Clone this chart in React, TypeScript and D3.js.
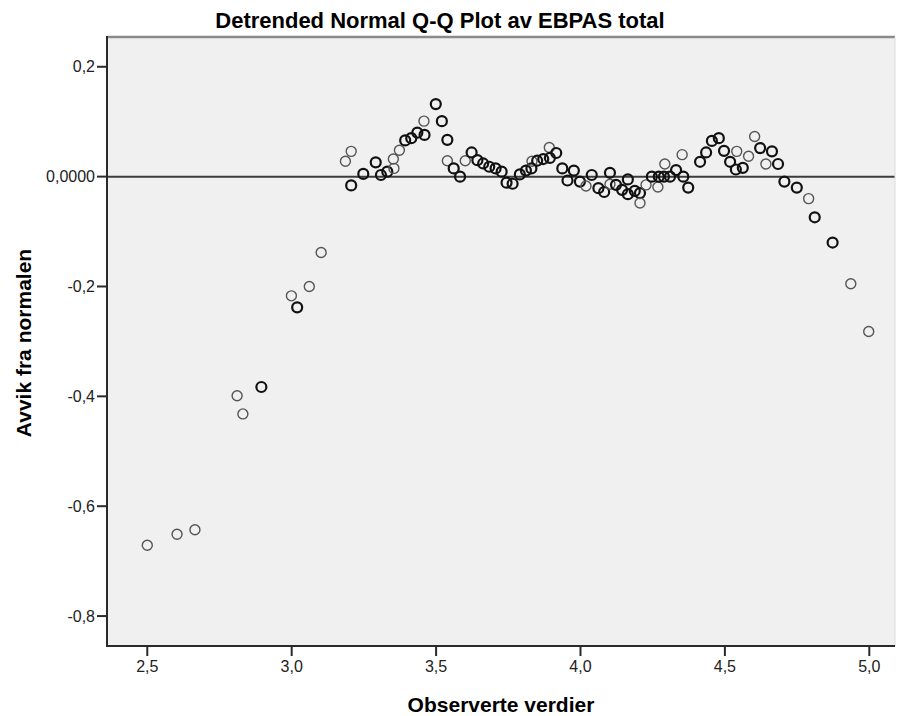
import React from "react";
import * as d3 from "d3";

const title = "Detrended Normal Q-Q Plot av EBPAS total";
const xLabel = "Observerte verdier";
const yLabel = "Avvik fra normalen";

const xTicks = [2.5, 3.0, 3.5, 4.0, 4.5, 5.0];
const xTickLabels = ["2,5", "3,0", "3,5", "4,0", "4,5", "5,0"];
const yTicks = [0.2, 0, -0.2, -0.4, -0.6, -0.8];
const yTickLabels = ["0,2", "0,0000", "-0,2", "-0,4", "-0,6", "-0,8"];

// observed values
const observed = [
  2.5, 2.603, 2.665, 2.811, 2.831, 2.895, 2.999, 3.019, 3.061, 3.102,
  3.186, 3.206, 3.206, 3.248, 3.291, 3.309, 3.331, 3.354, 3.352, 3.373,
  3.393, 3.414, 3.435, 3.458, 3.46, 3.499, 3.52, 3.539, 3.539, 3.561,
  3.583, 3.601, 3.623, 3.643, 3.663, 3.684, 3.706, 3.727, 3.744, 3.765,
  3.79, 3.811, 3.83, 3.832, 3.85, 3.871, 3.892, 3.894, 3.916, 3.937,
  3.955, 3.977, 3.998, 4.019, 4.039, 4.062, 4.082, 4.102, 4.102, 4.123,
  4.144, 4.164, 4.164, 4.188, 4.206, 4.206, 4.227, 4.247, 4.268, 4.271,
  4.292, 4.289, 4.31, 4.331, 4.352, 4.356, 4.373, 4.414, 4.435, 4.455,
  4.479, 4.497, 4.518, 4.541, 4.538, 4.562, 4.582, 4.603, 4.622, 4.642,
  4.663, 4.684, 4.706, 4.749, 4.79, 4.811, 4.873, 4.936, 4.998,
];

// deviation from normal
const deviation = [
  -0.671, -0.651, -0.643, -0.399, -0.432, -0.383, -0.217, -0.238, -0.2, -0.138,
  0.028, 0.046, -0.016, 0.005, 0.026, 0.003, 0.009, 0.015, 0.032, 0.048,
  0.066, 0.07, 0.08, 0.101, 0.076, 0.132, 0.101, 0.067, 0.029, 0.015,
  0.0, 0.029, 0.044, 0.03, 0.024, 0.018, 0.015, 0.009, -0.011, -0.013,
  0.004, 0.011, 0.015, 0.028, 0.029, 0.032, 0.053, 0.034, 0.043, 0.015,
  -0.007, 0.011, -0.009, -0.017, 0.003, -0.021, -0.028, 0.007, -0.014, -0.015,
  -0.024, -0.005, -0.032, -0.026, -0.03, -0.048, -0.015, 0.0, -0.019, 0.0,
  0.023, 0.0, 0.0, 0.012, 0.04, 0.0, -0.02, 0.027, 0.044, 0.065,
  0.07, 0.047, 0.027, 0.046, 0.013, 0.016, 0.037, 0.073, 0.052, 0.023,
  0.046, 0.023, -0.009, -0.02, -0.04, -0.074, -0.12, -0.195, -0.282,
];

// number of overlapping cases at each point (1 = single, 2 = repeated)
const counts = [
  1, 1, 1, 1, 1, 2, 1, 2, 1, 1,
  1, 1, 2, 2, 2, 2, 2, 1, 1, 1,
  2, 2, 2, 1, 2, 2, 2, 2, 1, 2,
  2, 1, 2, 2, 2, 2, 2, 2, 2, 2,
  2, 2, 2, 1, 2, 2, 1, 2, 2, 2,
  2, 2, 2, 1, 2, 2, 2, 2, 1, 2,
  2, 2, 2, 2, 2, 1, 1, 2, 1, 2,
  1, 2, 2, 2, 1, 2, 2, 2, 2, 2,
  2, 2, 2, 1, 2, 2, 1, 1, 2, 1,
  2, 2, 2, 2, 1, 2, 2, 1, 1,
];

const W = 897;
const H = 716;
const left = 107;
const right = 895;
const top = 37;
const bottom = 646;

export default function App() {
  const x = d3.scaleLinear().domain([2.3605, 5.089]).range([left, right]);
  const y = d3.scaleLinear().domain([-0.8545, 0.2542]).range([bottom, top]);
  const font = "'Liberation Sans', Arial, Helvetica, sans-serif";
  const pts = observed.map((v, i) => ({ x: v, y: deviation[i], n: counts[i] }));

  return (
    <svg
      width={W}
      height={H}
      style={{ position: "absolute", left: 0, top: 0, background: "#fff" }}
      fontFamily={font}
    >
      <rect x={0} y={0} width={W} height={H} fill="#ffffff" />
      <rect x={left} y={top} width={right - left} height={bottom - top} fill="#f0f0f0" />
      {/* zero reference line */}
      <line x1={left} x2={right} y1={y(0)} y2={y(0)} stroke="#3c3c3c" strokeWidth={2} />
      {/* points */}
      {pts.map((p, i) => (
        <circle
          key={i}
          cx={x(p.x)}
          cy={y(p.y)}
          r={5}
          fill="none"
          stroke={p.n > 1 ? "#111" : "#555"}
          strokeWidth={p.n > 1 ? 2.2 : 1.4}
        />
      ))}
      {/* frame */}
      <line x1={left} x2={right} y1={top} y2={top} stroke="#8a8a8a" strokeWidth={2.5} />
      <line x1={right} x2={right} y1={top} y2={bottom} stroke="#dcdcdc" strokeWidth={1} />
      <line x1={left} x2={left} y1={top - 1} y2={bottom + 1} stroke="#2a2a2a" strokeWidth={2} />
      <line x1={left - 1} x2={right} y1={bottom} y2={bottom} stroke="#2a2a2a" strokeWidth={2} />
      {/* y ticks */}
      {yTicks.map((t, i) => (
        <g key={"y" + i}>
          <line x1={left - 10} x2={left} y1={y(t)} y2={y(t)} stroke="#2a2a2a" strokeWidth={2} />
          <text x={left - 12} y={y(t)} dy="0.35em" textAnchor="end" fontSize={16} fill="#222">
            {yTickLabels[i]}
          </text>
        </g>
      ))}
      {/* x ticks */}
      {xTicks.map((t, i) => (
        <g key={"x" + i}>
          <line x1={x(t)} x2={x(t)} y1={bottom} y2={bottom + 10} stroke="#2a2a2a" strokeWidth={2} />
          <text x={x(t)} y={bottom + 26} textAnchor="middle" fontSize={16} fill="#222">
            {xTickLabels[i]}
          </text>
        </g>
      ))}
      <text x={440} y={28} textAnchor="middle" fontSize={22} fontWeight="bold" fill="#000">
        {title}
      </text>
      <text x={501} y={712} textAnchor="middle" fontSize={21} fontWeight="bold" fill="#000">
        {xLabel}
      </text>
      <text
        transform={`translate(31,343) rotate(-90)`}
        textAnchor="middle"
        fontSize={21}
        fontWeight="bold"
        fill="#000"
      >
        {yLabel}
      </text>
    </svg>
  );
}
